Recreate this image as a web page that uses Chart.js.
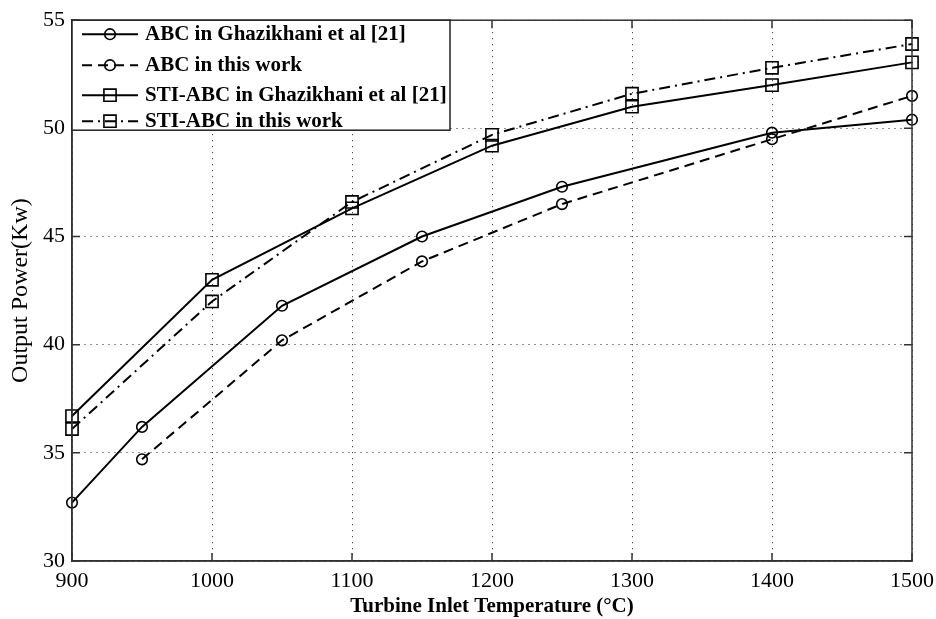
<!DOCTYPE html>
<html><head><meta charset="utf-8">
<script src="https://cdn.jsdelivr.net/npm/chart.js@4/dist/chart.umd.min.js"></script>
<style>html,body{margin:0;padding:0;background:#fff;}#wrap{width:936px;height:619px;position:relative;}</style>
</head><body><div id="wrap"><canvas id="c" width="936" height="619"></canvas></div>
<script>
// ---- data ----
const abcGhazX = [900, 950, 1050, 1150, 1250, 1400, 1500];
const abcGhazY = [32.7, 36.2, 41.8, 45.0, 47.3, 49.8, 50.4];
const abcWorkX = [950, 1050, 1150, 1250, 1400, 1500];
const abcWorkY = [34.7, 40.2, 43.85, 46.5, 49.5, 51.5];
const stiGhazX = [900, 1000, 1100, 1200, 1300, 1400, 1500];
const stiGhazY = [36.7, 43.0, 46.3, 49.2, 51.0, 52.0, 53.05];
const stiWorkX = [900, 1000, 1100, 1200, 1300, 1400, 1500];
const stiWorkY = [36.1, 42.0, 46.6, 49.7, 51.6, 52.8, 53.9];
const xTicks = [900, 1000, 1100, 1200, 1300, 1400, 1500];
const yTicks = [30, 35, 40, 45, 50, 55];
const seriesLabels = ['ABC in Ghazikhani et al [21]', 'ABC in this work', 'STI-ABC in Ghazikhani et al [21]', 'STI-ABC in this work'];
const xTitle = 'Turbine Inlet Temperature (°C)';
const yTitle = 'Output Power(Kw)';

const pts = (xs, ys) => xs.map((x, i) => ({x: x, y: ys[i]}));
const FONT = "'Liberation Serif', 'Times New Roman', serif";

function ds(label, data, dash, style, r) {
  return {
    label: label, data: data, borderColor: '#000', backgroundColor: 'transparent',
    borderWidth: 2, borderDash: dash, tension: 0, clip: false,
    pointStyle: style, pointRadius: r, pointHoverRadius: r, pointBorderWidth: 1.6,
    pointBorderColor: '#000', pointBackgroundColor: 'transparent'
  };
}

const boxTicks = {
  id: 'boxTicks',
  afterDatasetsDraw(chart) {
    const {ctx, chartArea: a, scales: {x, y}} = chart;
    ctx.save();
    ctx.strokeStyle = '#333'; ctx.lineWidth = 1.5; ctx.setLineDash([]);
    ctx.strokeRect(a.left, a.top, a.right - a.left, a.bottom - a.top);
    const L = 8;
    ctx.beginPath();
    xTicks.forEach(v => { const px = x.getPixelForValue(v);
      ctx.moveTo(px, a.bottom); ctx.lineTo(px, a.bottom - L);
      ctx.moveTo(px, a.top); ctx.lineTo(px, a.top + L); });
    yTicks.forEach(v => { const py = y.getPixelForValue(v);
      ctx.moveTo(a.left, py); ctx.lineTo(a.left + L, py);
      ctx.moveTo(a.right, py); ctx.lineTo(a.right - L, py); });
    ctx.stroke();
    // legend
    const lx = a.left, ly = a.top, lw = 378, lh = 110;
    ctx.fillStyle = '#fff';
    ctx.fillRect(lx, ly, lw, lh);
    ctx.strokeStyle = '#222'; ctx.lineWidth = 1.5;
    ctx.strokeRect(lx, ly, lw, lh);
    const rows = [14, 45, 75, 101];
    chart.data.datasets.forEach((d, i) => {
      const cy = ly + rows[i];
      ctx.strokeStyle = '#000'; ctx.lineWidth = 2;
      ctx.setLineDash(d.borderDash || []);
      ctx.beginPath(); ctx.moveTo(lx + 10, cy); ctx.lineTo(lx + 66, cy); ctx.stroke();
      ctx.setLineDash([]);
      ctx.lineWidth = 1.6;
      ctx.beginPath();
      if (d.pointStyle === 'circle') { ctx.arc(lx + 38, cy, d.pointRadius, 0, Math.PI * 2); }
      else { const s = d.pointRadius * Math.SQRT1_2; ctx.rect(lx + 38 - s, cy - s, 2 * s, 2 * s); }
      ctx.stroke();
      ctx.fillStyle = '#000';
      ctx.font = "bold 21px " + FONT;
      ctx.textBaseline = 'middle'; ctx.textAlign = 'left';
      ctx.fillText(d.label, lx + 73, cy);
    });
    ctx.restore();
  }
};

new Chart(document.getElementById('c'), {
  type: 'line',
  data: {
    datasets: [
      ds(seriesLabels[0], pts(abcGhazX, abcGhazY), [], 'circle', 5.3),
      ds(seriesLabels[1], pts(abcWorkX, abcWorkY), [10, 6], 'circle', 5.3),
      ds(seriesLabels[2], pts(stiGhazX, stiGhazY), [], 'rect', 8.6),
      ds(seriesLabels[3], pts(stiWorkX, stiWorkY), [11, 5, 2, 5], 'rect', 8.6)
    ]
  },
  options: {
    responsive: false, animation: false, devicePixelRatio: 1,
    layout: {padding: {left: 0, right: 24, top: 18, bottom: 0}},
    plugins: {legend: {display: false}, tooltip: {enabled: false}},
    scales: {
      x: {
        type: 'linear', min: 900, max: 1500,
        afterBuildTicks: s => { s.ticks = xTicks.map(v => ({value: v})); },
        afterFit: s => { s.height = 58; s.paddingRight = 0; s.paddingLeft = 0; },
        grid: {color: '#222', lineWidth: 1, drawTicks: false},
        border: {display: true, color: '#333', width: 1.5, dash: [1, 5]},
        ticks: {color: '#000', padding: 7, font: {family: FONT, size: 22}, maxRotation: 0, callback: v => String(v)},
        title: {display: true, text: xTitle, color: '#000', font: {family: FONT, size: 21, weight: 'bold'}, padding: {top: 0, bottom: 0}}
      },
      y: {
        type: 'linear', min: 30, max: 55,
        afterBuildTicks: s => { s.ticks = yTicks.map(v => ({value: v})); },
        afterFit: s => { s.width = 72; },
        grid: {color: '#222', lineWidth: 1, drawTicks: false},
        border: {display: true, color: '#333', width: 1.5, dash: [1, 5]},
        ticks: {color: '#000', padding: 7, font: {family: FONT, size: 22}, callback: v => String(v)},
        title: {display: true, text: yTitle, color: '#000', font: {family: FONT, size: 24}, padding: {top: 6, bottom: 0}}
      }
    }
  },
  plugins: [boxTicks]
});
</script></body></html>
